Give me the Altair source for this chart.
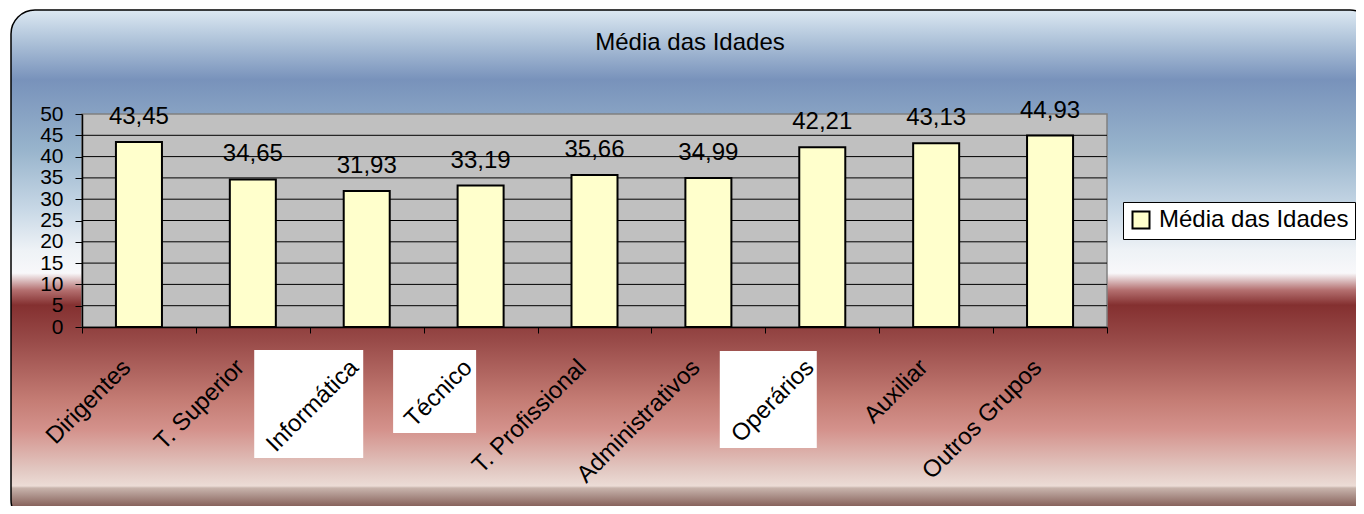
import altair as alt
import pandas as pd

TITLE = "Média das Idades"
SERIES = "Média das Idades"
categories = ["Dirigentes", "T. Superior", "Informática", "Técnico", "T. Profissional",
              "Administrativos", "Operários", "Auxiliar", "Outros Grupos"]
values = [43.45, 34.65, 31.93, 33.19, 35.66, 34.99, 42.21, 43.13, 44.93]
y_ticks = [0, 5, 10, 15, 20, 25, 30, 35, 40, 45, 50]
boxed_labels = ["Informática", "Técnico", "Operários"]

FONT = "Liberation Sans"
W, H = 1025, 213

df = pd.DataFrame({"cat": categories, "v": values, "serie": SERIES})
grid_df = pd.DataFrame({"t": [t for t in y_ticks if 0 < t < 50]})

xs = alt.Scale(domain=categories, paddingInner=0, paddingOuter=0)
ys = alt.Scale(domain=[0, 50], nice=False, zero=True)

bg_gradient = alt.LinearGradient(
    gradient="linear", x1=0, y1=0, x2=0, y2=1,
    stops=[
        alt.GradientStop(offset=0.0, color="#dce8f2"),
        alt.GradientStop(offset=0.058, color="#b0c4da"),
        alt.GradientStop(offset=0.136, color="#7892bb"),
        alt.GradientStop(offset=0.272, color="#98b4cc"),
        alt.GradientStop(offset=0.389, color="#c8d8e6"),
        alt.GradientStop(offset=0.467, color="#eef2f6"),
        alt.GradientStop(offset=0.512, color="#f8f8fa"),
        alt.GradientStop(offset=0.545, color="#b47070"),
        alt.GradientStop(offset=0.574, color="#843030"),
        alt.GradientStop(offset=0.642, color="#984a48"),
        alt.GradientStop(offset=0.759, color="#c47c74"),
        alt.GradientStop(offset=0.817, color="#d4928c"),
        alt.GradientStop(offset=0.895, color="#e2c8c2"),
        alt.GradientStop(offset=0.926, color="#ecdcd6"),
        alt.GradientStop(offset=0.93, color="#c8b4ac"),
        alt.GradientStop(offset=0.981, color="#6a3e38"),
        alt.GradientStop(offset=1.0, color="#603530"),
    ],
)

one = alt.Data(values=[{}])

x_axis = alt.Axis(
    title=None, labelAngle=-45, labelAlign="right", labelBaseline="top",
    labelFont=FONT, labelFontSize=24, labelColor="black", labelLimit=400,
    labelPadding=22, labelOffset=-21, tickBand="extent", tickSize=6,
    tickColor="black", domainColor="black", domainWidth=1.5, grid=False, zindex=1,
)
y_axis = alt.Axis(
    title=None, values=y_ticks, labelFont=FONT, labelFontSize=21, labelColor="black",
    labelPadding=12, tickSize=7, tickColor="black", domainColor="black",
    domainWidth=1.5, grid=False, zindex=1, labelFlush=False, labelOverlap=False,
)

background = alt.Chart(one).mark_rect(
    fill=bg_gradient, stroke="black", strokeWidth=1.5, cornerRadius=24
).encode(x=alt.value(-71), x2=alt.value(1292), y=alt.value(-104), y2=alt.value(410))

plot_bg = alt.Chart(one).mark_rect(
    fill="#c0c0c0", stroke="#808080", strokeWidth=1.5
).encode(x=alt.value(0), x2=alt.value(W), y=alt.value(0), y2=alt.value(H))

grid = alt.Chart(grid_df).mark_rule(color="black", strokeWidth=1).encode(
    y=alt.Y("t:Q", scale=ys, axis=y_axis)
)

box_style = {
    "Informática": dict(width=109, xOffset=-58, top=236, bottom=344),
    "Técnico": dict(width=83, xOffset=-46, top=236, bottom=319),
    "Operários": dict(width=97, xOffset=-54, top=237, bottom=334),
}
boxes = []
for lab in boxed_labels:
    s = box_style[lab]
    boxes.append(
        alt.Chart(df).transform_filter(alt.datum.cat == lab).mark_rect(
            fill="white", width=s["width"], xOffset=s["xOffset"]
        ).encode(
            x=alt.X("cat:N", scale=xs, sort=categories, axis=x_axis),
            y=alt.value(s["top"]), y2=alt.value(s["bottom"]),
        )
    )

bars = alt.Chart(df).mark_bar(
    width={"band": 0.404}, stroke="black", strokeWidth=2
).encode(
    x=alt.X("cat:N", scale=xs, sort=categories, axis=x_axis),
    y=alt.Y("v:Q", scale=ys, axis=y_axis),
    fill=alt.Fill(
        "serie:N",
        scale=alt.Scale(domain=[SERIES], range=["#ffffcc"]),
        legend=alt.Legend(
            title=None, orient="none", legendX=1041, legendY=88,
            symbolType="square", symbolSize=289, symbolStrokeColor="black",
            symbolStrokeWidth=2, symbolFillColor="#ffffcc",
            labelFont=FONT, labelFontSize=24, labelColor="black", labelOffset=6,
            labelLimit=400,
            fillColor="white", strokeColor="black", padding=6, cornerRadius=0,
        ),
    ),
)

labels = alt.Chart(df).transform_calculate(
    lbl="replace(format(datum.v, '.2f'), '.', ',')"
).mark_text(
    dy=-18, baseline="alphabetic", font=FONT, fontSize=24, color="black"
).encode(
    x=alt.X("cat:N", scale=xs, sort=categories, axis=x_axis),
    y=alt.Y("v:Q", scale=ys, axis=y_axis),
    text="lbl:N",
)

title = alt.Chart(one).mark_text(
    font=FONT, fontSize=24, color="black", baseline="alphabetic", align="center"
).encode(x=alt.value(608), y=alt.value(-64), text=alt.value(TITLE))

chart = alt.layer(background, plot_bg, grid, *boxes, bars, labels, title).properties(
    width=W, height=H,
    autosize=alt.AutoSizeParams(type="none"),
    padding={"left": 74, "top": 106, "right": 249, "bottom": 179},
).configure_view(strokeWidth=0)

chart.save("out.html", embed_options={"renderer": "svg", "actions": False})
